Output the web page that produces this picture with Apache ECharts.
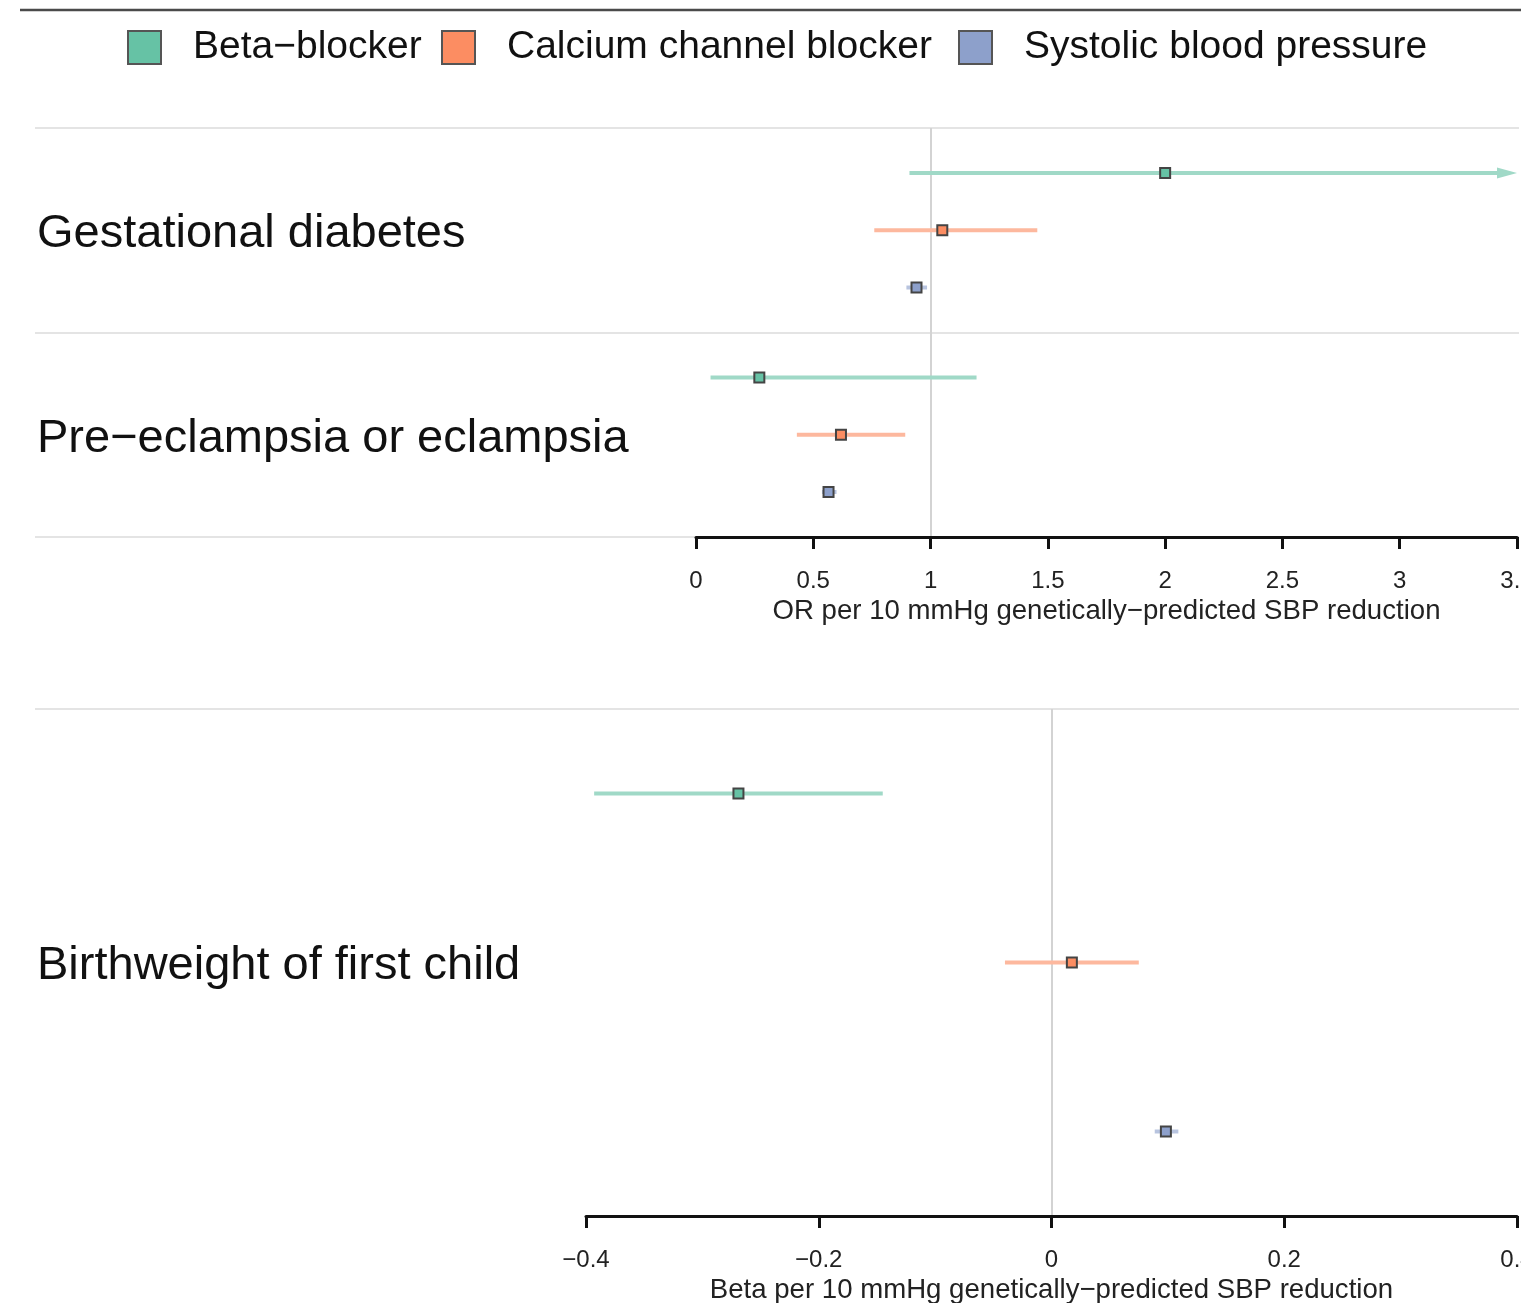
<!DOCTYPE html>
<html>
<head>
<meta charset="utf-8">
<script src="https://cdn.jsdelivr.net/npm/echarts@6/dist/echarts.min.js"></script>
<style>
  html, body { margin: 0; padding: 0; background: #ffffff; }
  #chart { width: 1521px; height: 1303px; }
</style>
</head>
<body>
<div id="chart"></div>
<script>
// Outcomes and exposures
const outcomesOR = ['Gestational diabetes', 'Pre−eclampsia or eclampsia'];
const outcomesBeta = ['Birthweight of first child'];
const exposures = ['Beta−blocker', 'Calcium channel blocker', 'Systolic blood pressure'];
const exposureColors = ['#66C2A5', '#FC8D62', '#8DA0CB'];

// Odds ratios: [estimate, lower CI, upper CI] for each binary outcome
const betaBlockerOR = [[2.00, 0.91, 4.44], [0.27, 0.062, 1.196]];
const calciumChannelOR = [[1.05, 0.76, 1.455], [0.618, 0.43, 0.892]];
const systolicOR = [[0.94, 0.897, 0.985], [0.565, 0.537, 0.599]];

// Beta coefficients: [estimate, lower CI, upper CI] for the continuous outcome
const betaBlockerBeta = [[-0.269, -0.393, -0.145]];
const calciumChannelBeta = [[0.0175, -0.040, 0.075]];
const systolicBeta = [[0.0983, 0.0887, 0.109]];

// Axis scales
const orAxis = { min: 0, max: 3.5, interval: 0.5, name: 'OR per 10 mmHg genetically−predicted SBP reduction', nullValue: 1 };
const betaAxis = { min: -0.4, max: 0.4, interval: 0.2, name: 'Beta per 10 mmHg genetically−predicted SBP reduction', nullValue: 0 };

const FONT = '"Liberation Sans", Arial, Helvetica, sans-serif';

// Lighten a hex colour towards white (used for the CI whiskers)
function tint(hex, a) {
  const n = parseInt(hex.slice(1), 16);
  const r = (n >> 16) & 255, g = (n >> 8) & 255, b = n & 255;
  const m = v => Math.round(a * v + (1 - a) * 255);
  return 'rgb(' + m(r) + ',' + m(g) + ',' + m(b) + ')';
}

// Vertical slot of an exposure inside its outcome band
const orSlot = (o, e) => o + 0.5 + (e - 1) * 0.28;
const betaSlot = (o, e) => o + 0.5 + (e - 1) / 3;

function toRows(estimates, slotFn, expIdx) {
  return estimates.map((d, o) => [d[0], d[1], d[2], slotFn(o, expIdx)]);
}

// Square point estimate with a horizontal confidence interval; arrow when the CI runs off the axis
function renderCI(color) {
  const whisker = tint(color, 0.62);
  return function (params, api) {
    const cs = params.coordSys;
    const y = api.value(3);
    const pt = api.coord([api.value(0), y]);
    const lo = api.coord([api.value(1), y]);
    const hi = api.coord([api.value(2), y]);
    const left = cs.x, right = cs.x + cs.width;
    const x1 = Math.max(lo[0], left), x2 = Math.min(hi[0], right);
    const children = [];
    const arrowR = hi[0] > right;
    children.push({
      type: 'line',
      shape: { x1: x1, y1: pt[1], x2: arrowR ? x2 - 8 : x2, y2: pt[1] },
      style: { stroke: whisker, lineWidth: 4 }
    });
    if (arrowR) {
      children.push({
        type: 'polygon',
        shape: { points: [[right, pt[1]], [right - 20, pt[1] - 5.5], [right - 20, pt[1] + 5.5]] },
        style: { fill: whisker }
      });
    }
    if (lo[0] < left) {
      children.push({
        type: 'polygon',
        shape: { points: [[left, pt[1]], [left + 20, pt[1] - 5.5], [left + 20, pt[1] + 5.5]] },
        style: { fill: whisker }
      });
    }
    children.push({
      type: 'rect',
      shape: { x: pt[0] - 5, y: pt[1] - 5, width: 10, height: 10 },
      style: { fill: color, stroke: '#444444', lineWidth: 2 }
    });
    return { type: 'group', children: children };
  };
}

const orData = [betaBlockerOR, calciumChannelOR, systolicOR];
const betaData = [betaBlockerBeta, calciumChannelBeta, systolicBeta];

const refLine = v => ({
  silent: true,
  symbol: 'none',
  label: { show: false },
  lineStyle: { color: '#d3d3d3', width: 2, type: 'solid' },
  data: [{ xAxis: v }]
});

const series = [];
exposures.forEach((name, e) => {
  series.push({
    type: 'custom', name: name, xAxisIndex: 0, yAxisIndex: 0, z: 10, clip: false,
    itemStyle: { color: exposureColors[e] },
    renderItem: renderCI(exposureColors[e]),
    encode: { x: [0, 1, 2], y: 3 },
    data: toRows(orData[e], orSlot, e),
    markLine: e === 0 ? refLine(orAxis.nullValue) : undefined
  });
  series.push({
    type: 'custom', name: name, xAxisIndex: 1, yAxisIndex: 1, z: 10, clip: false,
    itemStyle: { color: exposureColors[e] },
    renderItem: renderCI(exposureColors[e]),
    encode: { x: [0, 1, 2], y: 3 },
    data: toRows(betaData[e], betaSlot, e),
    markLine: e === 0 ? refLine(betaAxis.nullValue) : undefined
  });
});

const tickFmt = v => {
  const s = String(Math.round(v * 1000) / 1000);
  return s.replace('-', '−');
};

function dataXAxis(gridIndex, ax) {
  return {
    gridIndex: gridIndex, type: 'value', position: 'bottom',
    min: ax.min, max: ax.max, interval: ax.interval, z: 5,
    axisLine: { show: true, onZero: false, lineStyle: { color: '#111111', width: 3 } },
    axisTick: { show: true, length: 12, lineStyle: { color: '#111111', width: 3 } },
    axisLabel: { margin: 32, fontSize: 24, color: '#222222', fontFamily: FONT, formatter: tickFmt, showMinLabel: true, showMaxLabel: true },
    splitLine: { show: false },
    name: ax.name, nameLocation: 'middle', nameGap: 60,
    nameTextStyle: { fontSize: 27.6, color: '#222222', fontFamily: FONT }
  };
}

function labelYAxis(gridIndex, cats, inverse, showMin) {
  return {
    gridIndex: gridIndex, type: 'category', data: cats, inverse: inverse, z: 0,
    axisLine: { show: false }, axisTick: { show: false },
    axisLabel: { inside: true, margin: 2, fontSize: 47, color: '#111111', fontFamily: FONT, verticalAlign: 'top', lineHeight: 8 },
    splitLine: { show: true, showMinLine: showMin, lineStyle: { color: '#e4e4e4', width: 2 } }
  };
}

const option = {
  backgroundColor: '#ffffff',
  animation: false,
  textStyle: { fontFamily: FONT },
  graphic: [{
    type: 'line', silent: true,
    shape: { x1: 20, y1: 10, x2: 1521, y2: 10 },
    style: { stroke: '#4a4a4a', lineWidth: 2.5 }
  }],
  legend: exposures.map((name, i) => ({
    left: [127, 441, 958][i], top: 28, padding: 0,
    selectedMode: false,
    itemWidth: 33, itemHeight: 33,
    textStyle: { fontSize: 39, color: '#111111', fontFamily: FONT, lineHeight: 33, padding: [0, 0, 0, 27] },
    data: [{ name: name, icon: 'rect', itemStyle: { color: exposureColors[i], borderColor: '#555555', borderWidth: 2 } }]
  })),
  grid: [
    { left: 696, right: 4, top: 128, height: 409, outerBoundsMode: 'none' },
    { left: 586, right: 4, top: 709, height: 507, outerBoundsMode: 'none' },
    { left: 35, right: 2, top: 128, height: 409, outerBoundsMode: 'none' },
    { left: 35, right: 2, top: 709, height: 507, outerBoundsMode: 'none' }
  ],
  xAxis: [
    dataXAxis(0, orAxis),
    dataXAxis(1, betaAxis),
    { gridIndex: 2, type: 'value', show: false },
    { gridIndex: 3, type: 'value', show: false }
  ],
  yAxis: [
    { gridIndex: 0, type: 'value', min: 0, max: outcomesOR.length, inverse: true, show: false },
    { gridIndex: 1, type: 'value', min: 0, max: outcomesBeta.length, inverse: true, show: false },
    labelYAxis(2, outcomesOR, true, true),
    labelYAxis(3, outcomesBeta, false, false)
  ],
  series: series
};

const chart = echarts.init(document.getElementById('chart'), null, { renderer: 'canvas' });
chart.setOption(option);
</script>
</body>
</html>
